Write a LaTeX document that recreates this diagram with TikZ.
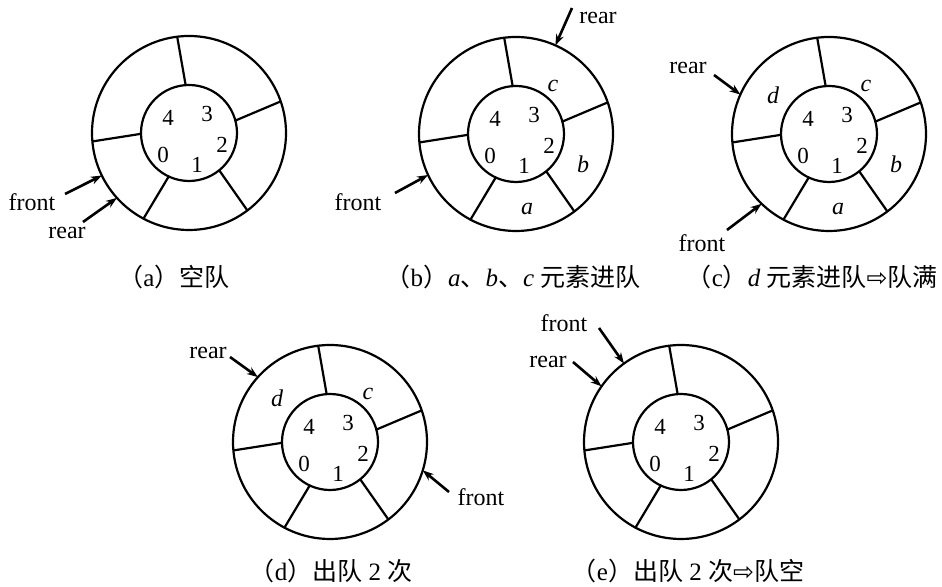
\documentclass[tikz,border=0pt]{standalone}
\usepackage{fontspec}
\setmainfont{Liberation Serif}
\newfontfamily\cjk{Noto Sans CJK SC}
\newfontfamily\symf{DejaVu Sans}
\usetikzlibrary{arrows.meta}
\newcommand{\zh}[1]{{\cjk #1}}

\begin{document}
\begin{tikzpicture}[x=0.5pt,y=0.5pt,
  ringout/.style={circle,draw,line width=1.1pt,minimum size=97pt,inner sep=0pt,outer sep=0pt},
  ringin/.style={circle,draw,line width=1.1pt,minimum size=48pt,inner sep=0pt,outer sep=0pt},
  idx/.style={font=\fontsize{11.5}{13}\selectfont,inner sep=0pt},
  elem/.style={font=\fontsize{12}{13}\selectfont\itshape,inner sep=0pt},
  ptr/.style={font=\fontsize{12}{13}\selectfont,inner sep=0pt},
  subcap/.style={font=\fontsize{12.5}{14}\selectfont,inner sep=0pt},
  ptrline/.style={line width=1.3pt,-{Stealth[length=5.5pt,width=4pt]}}]
  \useasboundingbox (0,0) rectangle (942,587);

  % five copies of the queue ring, slots 0..4
  \foreach \n/\cx/\cy in {a/189/454,b/516/453,c/829/453,d/330/145,e/681/145}{
    \node[ringout] (o\n) at (\cx,\cy) {};
    \node[ringin] (i\n) at (\cx,\cy) {};
    \foreach \p/\q in {97/94,19/15,307/309,242/245,185/181}
      \draw[line width=1.1pt] (o\n.\p) -- (i\n.\q);
    \foreach \k/\dx/\dy in {0/-26/-22,1/8/-32,2/33/-12,3/18/19,4/-21/15}
      \node[idx] (k\n\k) at (\cx+\dx,\cy+\dy) {\k};
  }

  % stored elements
  \node[elem] (cb) at (553,501) {c};
  \node[elem] (bb) at (583,423) {b};
  \node[elem] (ab) at (527,378) {a};
  \node[elem] (cc) at (866,501) {c};
  \node[elem] (bc) at (896,423) {b};
  \node[elem] (ac) at (838,378) {a};
  \node[elem] (dc) at (773,492) {d};
  \node[elem] (dd) at (277,189) {d};
  \node[elem] (cd) at (368,193) {c};

  % front / rear pointers
  \node[ptr] (fa) at (32,385) {front};
  \node[ptr] (ra) at (67,354) {rear};
  \coordinate (fa0) at (65,393);
  \coordinate (ra0) at (83,365);
  \draw[ptrline] (fa0) -- (oa.206);
  \draw[ptrline] (ra0) -- (oa.222);

  \node[ptr] (rb) at (598,569) {rear};
  \node[ptr] (fb) at (358,385) {front};
  \coordinate (rb0) at (572,579);
  \coordinate (fb0) at (395,394);
  \draw[ptrline] (rb0) -- (ob.66);
  \draw[ptrline] (fb0) -- (ob.205);

  \node[ptr] (rc) at (688,519) {rear};
  \node[ptr] (fc) at (702,344) {front};
  \coordinate (rc0) at (714,512);
  \coordinate (fc0) at (727,357);
  \draw[ptrline] (rc0) -- (oc.156);
  \draw[ptrline] (fc0) -- (oc.226);

  \node[ptr] (rd) at (208,234) {rear};
  \node[ptr] (fd) at (481,90) {front};
  \coordinate (rd0) at (230,230);
  \coordinate (fd0) at (449,95);
  \draw[ptrline] (rd0) -- (od.138);
  \draw[ptrline] (fd0) -- (od.343);

  \node[ptr] (fe) at (564,264) {front};
  \node[ptr] (re) at (548,225) {rear};
  \coordinate (fe0) at (599,259);
  \coordinate (re0) at (573,225);
  \draw[ptrline] (fe0) -- (oe.126);
  \draw[ptrline] (re0) -- (oe.145);

  % captions
  \node[subcap] (capa) at (174,310) {\zh{（}a\zh{）空队}};
  \node[subcap] (capb) at (513,310) {\zh{（}b\zh{）}\textit{a}\zh{、}\textit{b}\zh{、}\textit{c} \zh{元素进队}};
  \node[subcap,anchor=east] (capc) at (938,310) {\zh{（}c\zh{）}\textit{d} \zh{元素进队}{\symf ⇨}\zh{队满}};
  \node[subcap] (capd) at (331,16) {\zh{（}d\zh{）出队} 2 \zh{次}};
  \node[subcap] (cape) at (688,16) {\zh{（}e\zh{）出队} 2 \zh{次}{\symf ⇨}\zh{队空}};
\end{tikzpicture}
\end{document}
